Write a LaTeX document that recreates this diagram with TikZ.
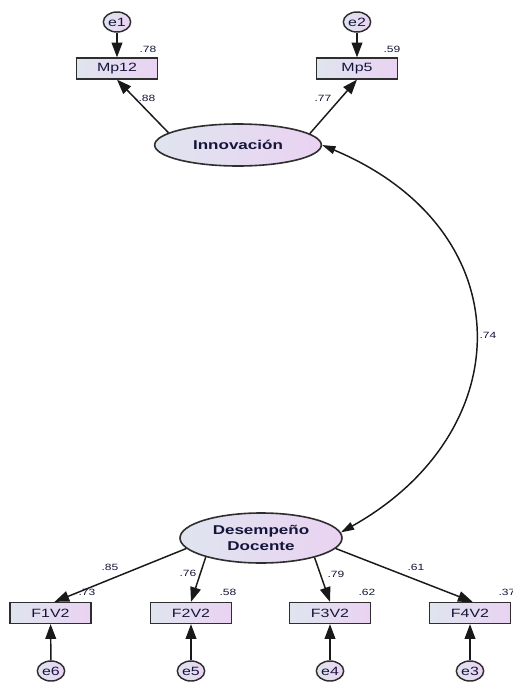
\documentclass[tikz,border=0pt]{standalone}
\usepackage{fontspec}
\setmainfont{Liberation Sans}
\newfontfamily\semfont[FakeStretch=1.33]{Liberation Sans}
\usetikzlibrary{shapes.geometric,arrows.meta}

\definecolor{fillL}{HTML}{DFE5EF}
\definecolor{fillR}{HTML}{EAD2F2}
\definecolor{ink}{HTML}{15153A}
\definecolor{edge}{HTML}{2E2E2E}

\tikzset{
  obs/.style={rectangle, draw=edge, line width=1.2pt, left color=fillL, right color=fillR,
    minimum width=61pt, minimum height=15.5pt, inner sep=0pt,
    font=\semfont\fontsize{9}{10}\selectfont, text=ink},
  err/.style={ellipse, draw=edge, line width=1.1pt, left color=fillL, right color=fillR,
    minimum width=20.5pt, minimum height=15pt, inner sep=0pt,
    font=\semfont\fontsize{9}{10}\selectfont, text=ink},
  lat/.style={ellipse, draw=edge, line width=1.2pt, left color=fillL, right color=fillR,
    inner sep=0pt, align=center,
    font=\semfont\bfseries\fontsize{9.6}{12.6}\selectfont, text=ink},
  coef/.style={font=\semfont\fontsize{6.8}{7}\selectfont, text=ink, inner sep=0pt},
  reg/.style={-{Triangle[length=11pt,width=8pt]}, line width=1.1pt, draw=black!90},
  cov/.style={{Triangle[length=10pt,width=6pt]}-{Triangle[length=10pt,width=6pt]},
    line width=1.1pt, draw=black!90},
}

\begin{document}
\begin{tikzpicture}[x=0.75pt,y=-0.75pt]
  \useasboundingbox (0,0) rectangle (513,682);

  % latent factors
  \node[lat, minimum width=125pt, minimum height=31.5pt] (I) at (238,145) {Innovación};
  \node[lat, minimum width=121.5pt, minimum height=37.5pt] (D) at (261,538) {Desempeño\\Docente};

  % indicators of Innovación
  \node[obs] (M12) at (117,68.5) {Mp12};
  \node[obs] (M5)  at (357,68.5) {Mp5};
  \node[err] (e1) at (117,22) {e1};
  \node[err] (e2) at (357,22) {e2};

  % indicators of Desempeño Docente
  \node[obs] (F1) at (50.5,613) {F1V2};
  \node[obs] (F2) at (191,613) {F2V2};
  \node[obs] (F3) at (330,613) {F3V2};
  \node[obs] (F4) at (470,613) {F4V2};
  \node[err] (e6) at (51,671) {e6};
  \node[err] (e5) at (191,671) {e5};
  \node[err] (e4) at (330,671) {e4};
  \node[err] (e3) at (470,671) {e3};

  % error terms
  \draw[reg] (e1) -- (M12);
  \draw[reg] (e2) -- (M5);
  \draw[reg] (e6) -- (F1);
  \draw[reg] (e5) -- (F2);
  \draw[reg] (e4) -- (F3);
  \draw[reg] (e3) -- (F4);

  % factor loadings
  \draw[reg] (I.170.5) -- (M12.south);
  \draw[reg] (I.9.8) -- (M5.south);
  \draw[reg] (D.188) -- ([xshift=3pt]F1.north);
  \draw[reg] (D.199.3) -- (F2.north);
  \draw[reg] (D.340) -- (F3.north);
  \draw[reg] (D.352.3) -- ([xshift=2pt]F4.north);

  % covariance between the factors
  \draw[cov] (I.east) .. controls (524,230) and (520,432) .. (D.4);

  % standardised estimates
  \node[coef] (r78) at (148,49) {.78};
  \node[coef] (r59) at (392,49) {.59};
  \node[coef] (l88) at (147,98) {.88};
  \node[coef] (l77) at (323,98) {.77};
  \node[coef] (c74) at (488,335) {.74};
  \node[coef] (l85) at (110,567) {.85};
  \node[coef] (l76) at (188,573) {.76};
  \node[coef] (l79) at (336,574) {.79};
  \node[coef] (l61) at (416,567) {.61};
  \node[coef] (r73) at (87,592) {.73};
  \node[coef] (r58) at (228,592) {.58};
  \node[coef] (r62) at (367,592) {.62};
  \node[coef] (r37) at (507,592) {.37};
\end{tikzpicture}
\end{document}
